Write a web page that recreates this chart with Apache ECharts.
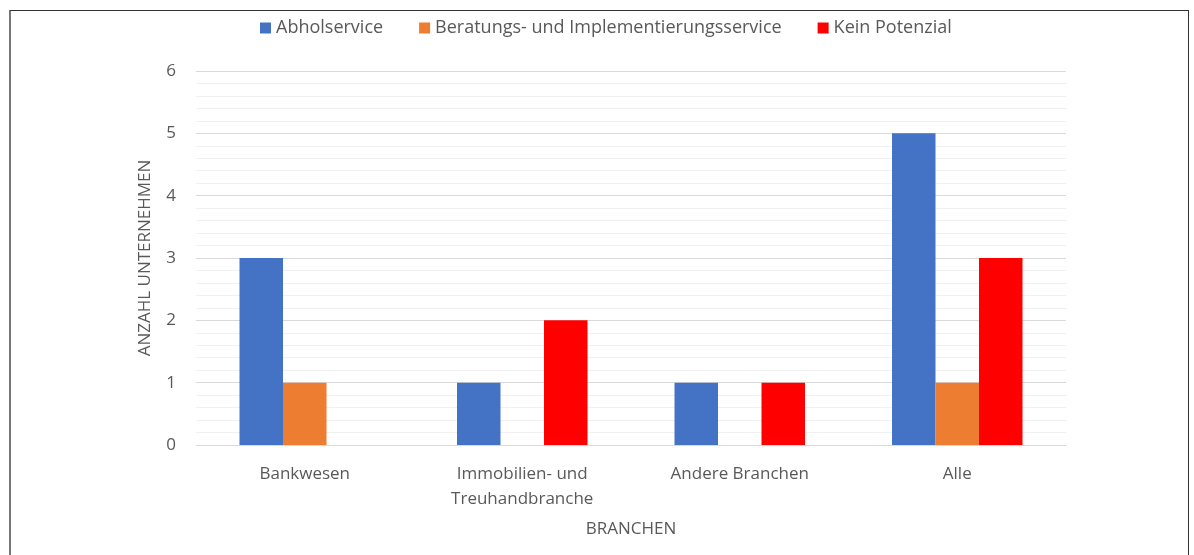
<!DOCTYPE html>
<html>
<head>
<meta charset="utf-8">
<script src="https://cdn.jsdelivr.net/npm/echarts@6/dist/echarts.min.js"></script>
<style>
  html, body { margin: 0; padding: 0; background: #fff; }
  #frame { position: absolute; left: 9px; top: 10px; width: 1180px; height: 560px;
           border: 1px solid #333; border-left: 2px solid #777; border-bottom: none; box-sizing: border-box; }
  #chart { position: absolute; left: 0; top: 0; width: 1194px; height: 555px; }
</style>
</head>
<body>
<div id="frame"></div>
<div id="chart"></div>
<script>
// Kategorien und Werte aus dem Referenzbild
const categories = ["Bankwesen", "Immobilien- und\nTreuhandbranche", "Andere Branchen", "Alle"];
const abholservice = [3, 1, 1, 5];
const beratung = [1, 0, 0, 1];
const keinPotenzial = [0, 2, 1, 3];
const yTicks = { min: 0, max: 6, interval: 1 };

const FONT = '"Open Sans", "Noto Sans", sans-serif';
const INK = "#595959";

const chart = echarts.init(document.getElementById("chart"), null, { renderer: "canvas" });
chart.setOption({
  animation: false,
  textStyle: { fontFamily: FONT, color: INK },
  color: ["#4472C4", "#ED7D31", "#FF0000"],
  legend: {
    top: 14,
    left: 255,
    itemWidth: 11,
    itemHeight: 11,
    itemGap: 36,
    icon: "rect",
    textStyle: { fontFamily: FONT, fontSize: 18, color: INK }
  },
  grid: { left: 196, right: 128, top: 71, bottom: 110, containLabel: false },
  xAxis: {
    type: "category",
    data: categories,
    name: "BRANCHEN",
    nameLocation: "middle",
    nameGap: 76,
    nameTextStyle: { fontFamily: FONT, fontSize: 17, color: INK },
    axisLine: { show: true, lineStyle: { color: "#d9d9d9" } },
    axisTick: { show: false },
    axisLabel: { fontFamily: FONT, fontSize: 17, color: INK, margin: 17, lineHeight: 25, interval: 0 }
  },
  yAxis: {
    type: "value",
    min: yTicks.min,
    max: yTicks.max,
    interval: yTicks.interval,
    name: "ANZAHL UNTERNEHMEN",
    nameLocation: "middle",
    nameGap: 42,
    nameRotate: 90,
    nameTextStyle: { fontFamily: FONT, fontSize: 17, color: INK },
    axisLine: { show: false },
    axisTick: { show: false },
    axisLabel: { fontFamily: FONT, fontSize: 17, color: INK, margin: 20 },
    splitLine: { lineStyle: { color: "#d9d9d9", width: 1 } },
    minorTick: { show: false, splitNumber: 5 },
    minorSplitLine: { show: true, lineStyle: { color: "#f0f0f0", width: 1 } }
  },
  series: [
    { name: "Abholservice", type: "bar", data: abholservice, barGap: "0%", barCategoryGap: "40%" },
    { name: "Beratungs- und Implementierungsservice", type: "bar", data: beratung, barGap: "0%", barCategoryGap: "40%" },
    { name: "Kein Potenzial", type: "bar", data: keinPotenzial, barGap: "0%", barCategoryGap: "40%" }
  ]
});
</script>
</body>
</html>
